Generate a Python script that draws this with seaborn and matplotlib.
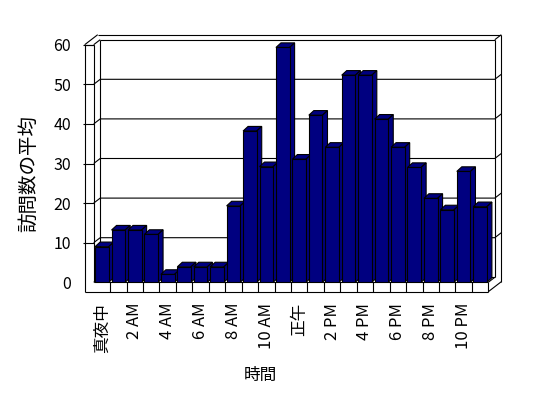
import matplotlib
matplotlib.use('Agg')
import matplotlib.pyplot as plt
import seaborn as sns
import pandas as pd
from matplotlib.patches import Polygon

# ---- data ----
hours = ['真夜中', '1 AM', '2 AM', '3 AM', '4 AM', '5 AM', '6 AM', '7 AM',
         '8 AM', '9 AM', '10 AM', '11 AM', '正午', '1 PM', '2 PM', '3 PM',
         '4 PM', '5 PM', '6 PM', '7 PM', '8 PM', '9 PM', '10 PM', '11 PM']
visits = [9.0, 13.2, 13.2, 12.1, 2.0, 3.9, 3.9, 3.9, 19.3, 38.2, 29.2, 59.3,
          31.1, 42.2, 34.1, 52.3, 52.3, 41.2, 34.1, 29.0, 21.2, 18.3, 28.0, 19.1]
tick_labels = ['真夜中', '2 AM', '4 AM', '6 AM', '8 AM', '10 AM', '正午',
               '2 PM', '4 PM', '6 PM', '8 PM', '10 PM']
y_ticks = [0, 10, 20, 30, 40, 50, 60]
x_title = '時間'
y_title = '訪問数の平均'

sns.set_theme(style='white')
plt.rcParams['font.family'] = ['Noto Sans CJK JP', 'DejaVu Sans']

W, H = 548, 398
fig = plt.figure(figsize=(W / 100, H / 100), dpi=100)
fig.patch.set_facecolor('white')
L, R, T, B = 93.7, 488.3, 44.7, 282.3
ax = fig.add_axes([L / W, 1 - B / H, (R - L) / W, (B - T) / H])
ax.set_facecolor('none')

df = pd.DataFrame({'hour': hours, 'visits': visits})
sns.barplot(data=df, x='hour', y='visits', order=hours, color='#000080',
            saturation=1, width=0.83, edgecolor='black', linewidth=0.8,
            errorbar=None, ax=ax)

n = len(hours)
ax.set_xlim(-0.5, n - 0.5)
ax.set_ylim(0, 60)
for s in ax.spines.values():
    s.set_visible(False)

sx = (R - L) / n      # px per category
sy = (B - T) / 60.0   # px per unit
tw = 9.0 / sx
th = 9.4 / sy
ddx = 6.5 / sx
ddy = 5.0 / sy
bdx = 5.0 / sx
bdy = 4.6 / sy

navy = '#000080'
lw = 0.8

# 3D faces for bars
patches = sorted(ax.patches, key=lambda p: p.get_x())
for i, p in enumerate(patches):
    x0 = p.get_x(); w = p.get_width(); h = p.get_height()
    p.set_zorder(3 + 2 * i + 1)
    top = Polygon([(x0, h), (x0 + w, h), (x0 + w + bdx, h + bdy), (x0 + bdx, h + bdy)],
                  closed=True, facecolor=navy, edgecolor='black', lw=lw,
                  zorder=3 + 2 * i, clip_on=False)
    side = Polygon([(x0 + w, 0), (x0 + w, h), (x0 + w + bdx, h + bdy), (x0 + w + bdx, bdy)],
                   closed=True, facecolor=navy, edgecolor='black', lw=lw,
                   zorder=3 + 2 * i, clip_on=False)
    ax.add_patch(top)
    ax.add_patch(side)

xl, xr = -0.5, n - 0.5

def line(xs, ys, z=1):
    ax.plot(xs, ys, color='black', lw=lw, clip_on=False, zorder=z,
            solid_capstyle='butt')

# frame / walls
line([xl - tw, xl - tw], [-th, 60])
line([xl - tw, xr], [-th, -th])
line([xl - tw, xl], [60, 60])
line([xl, xl], [0, 60])
line([xl, xr], [0, 0])
line([xr, xr], [-th, 0])
for k in range(n - 1):
    line([k + 0.5, k + 0.5], [-th, 0])
line([xr, xr + ddx], [0, ddy])
line([xr, xr + 2 * ddx], [-th, -th + 2 * ddy])
line([xr + ddx, xr + ddx], [ddy, 60 + ddy])
line([xr + 2 * ddx, xr + 2 * ddx], [-th + 2 * ddy, 60 + 2 * ddy])
line([xl + ddx, xr + ddx], [60 + ddy, 60 + ddy])
line([xl - tw + 2 * ddx, xr + 2 * ddx], [60 + 2 * ddy, 60 + 2 * ddy])
line([xl - tw, xl - tw + 2 * ddx], [60, 60 + 2 * ddy])
line([xl, xl + ddx], [60, 60 + ddy])
line([xr + ddx, xr + 2 * ddx], [60 + ddy, 60 + 2 * ddy])
line([xl + ddx, xl + ddx], [ddy, 60 + ddy])
line([xl + ddx, xr + ddx], [ddy, ddy])
line([xl, xl + ddx], [0, ddy])
for v in y_ticks[1:-1]:
    line([xl, xl + ddx, xr + ddx, xr + 2 * ddx], [v, v + ddy, v + ddy, v + 2 * ddy])

# axes ticks and labels
ax.set_yticks(y_ticks)
ax.set_yticklabels([str(v) for v in y_ticks])
ax.tick_params(axis='y', which='major', left=True, length=11 * 0.72, width=lw,
               color='black', direction='out', pad=8.4, labelsize=11.5,
               labelcolor='black')
ax.yaxis.get_major_ticks()[0].tick1line.set_visible(False)

ax.set_xticks(range(0, n, 2))
ax.set_xticklabels(tick_labels, rotation=90)
ax.tick_params(axis='x', which='major', bottom=False, length=0, pad=14.9,
               labelsize=12, labelcolor='black')

ax.set_xlabel(x_title, fontsize=12, color='black')
ax.set_ylabel(y_title, fontsize=14, color='black')
ax.xaxis.set_label_coords((260 - L) / (R - L), -(367 - B) / (B - T))
ax.yaxis.set_label_coords((39 - L) / (R - L), 1 - (174 - T) / (B - T))

fig.savefig('out.png', dpi=100, facecolor='white')
